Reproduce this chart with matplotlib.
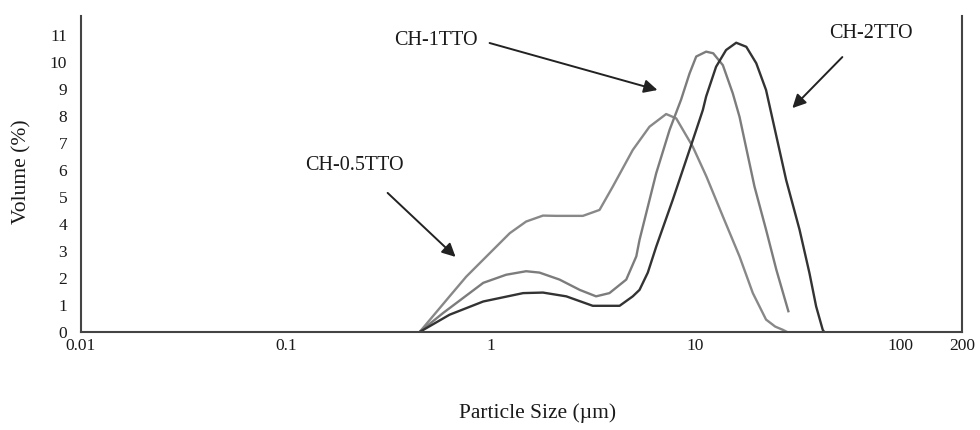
import numpy as np
import matplotlib.pyplot as plt

plt.rcParams['font.family'] = ['Liberation Serif', 'DejaVu Serif']

# particle size distributions (size in um, volume %)
size_05 = [0.45, 0.63, 0.76, 0.99, 1.24, 1.49, 1.80, 2.09, 2.82, 3.40, 3.95, 4.94,
           5.96, 7.19, 8.05, 9.7, 11.3, 13.6, 16.4, 19.05, 22.1, 24.5, 26.7, 28.0]
vol_05 = [0, 1.32, 2.05, 2.92, 3.66, 4.09, 4.31, 4.30, 4.30, 4.52, 5.39, 6.74,
          7.60, 8.07, 7.91, 6.86, 5.76, 4.28, 2.80, 1.44, 0.46, 0.20, 0.08, 0]

size_1 = [0.45, 0.585, 0.92, 1.19, 1.49, 1.73, 2.17, 2.72, 3.27, 3.80, 4.59, 5.14,
          5.33, 6.43, 7.47, 8.5, 9.35, 10.08, 11.27, 12.2, 13.6, 15.2, 16.4, 19.4,
          22.1, 24.8, 28.4]
vol_1 = [0, 0.70, 1.82, 2.12, 2.25, 2.20, 1.94, 1.56, 1.32, 1.44, 1.94, 2.80,
         3.41, 5.88, 7.48, 8.60, 9.57, 10.20, 10.38, 10.32, 9.88, 8.84, 7.97, 5.39,
         3.79, 2.31, 0.77]

size_2 = [0.45, 0.63, 0.92, 1.44, 1.80, 2.34, 3.15, 4.26, 4.94, 5.33, 5.85, 6.43,
          7.74, 9.35, 10.08, 10.86, 11.27, 12.6, 14.1, 15.8, 17.7, 19.8, 22.1, 27.7,
          32.2, 36.0, 38.8, 41.8, 42.5]
vol_2 = [0, 0.64, 1.13, 1.44, 1.46, 1.32, 0.97, 0.97, 1.32, 1.56, 2.20, 3.16,
         4.89, 6.74, 7.48, 8.22, 8.72, 9.82, 10.44, 10.71, 10.56, 9.95, 8.96, 5.63,
         3.79, 2.18, 0.95, 0.08, 0]

xticks = [0.01, 0.1, 1, 10, 100, 200]
xticklabels = ['0.01', '0.1', '1', '10', '100', '200']
yticks = list(range(0, 12))

fig = plt.figure(figsize=(9.8, 4.3), dpi=100)
ax = fig.add_axes([81 / 980, 1 - 332 / 430, 881 / 980, 316 / 430])

ax.plot(size_05, vol_05, color='#888888', lw=1.7)
ax.plot(size_1, vol_1, color='#7c7c7c', lw=1.7)
ax.plot(size_2, vol_2, color='#333333', lw=1.7)

ax.set_xscale('log')
ax.set_xlim(0.01, 200)
ax.set_ylim(0, 11.7)
ax.set_xticks(xticks)
ax.set_xticklabels(xticklabels)
ax.minorticks_off()
ax.set_yticks(yticks)
ax.tick_params(length=0, labelsize=12.5, colors='#1a1a1a')
ax.tick_params(axis='x', pad=4)
ax.tick_params(axis='y', pad=10)

ax.spines['top'].set_visible(False)
for s in ['left', 'right', 'bottom']:
    ax.spines[s].set_color('#444444')
    ax.spines[s].set_linewidth(1.5)

fig.text(22 / 980, 1 - 172 / 430, 'Volume (%)', rotation=90, ha='center', va='center',
         fontsize=15.5, color='#1a1a1a')
fig.text(538 / 980, 1 - 413 / 430, 'Particle Size (\u00b5m)', ha='center', va='center',
         fontsize=15.5, color='#1a1a1a')

arrow = dict(arrowstyle='-|>', mutation_scale=20, color='#222222', lw=1.4,
             shrinkA=0, shrinkB=0)
ax.annotate('', xy=(6.52, 8.96), xytext=(0.988, 10.70), arrowprops=arrow)
ax.text(0.538, 10.81, 'CH-1TTO', ha='center', va='center', fontsize=14.5, color='#1a1a1a')
ax.annotate('', xy=(29.7, 8.29), xytext=(52.1, 10.18), arrowprops=arrow)
ax.text(72.1, 11.07, 'CH-2TTO', ha='center', va='center', fontsize=14.5, color='#1a1a1a')
ax.annotate('', xy=(0.674, 2.78), xytext=(0.314, 5.15), arrowprops=arrow)
ax.text(0.216, 6.15, 'CH-0.5TTO', ha='center', va='center', fontsize=14.5, color='#1a1a1a')

fig.savefig('out.png', dpi=100)
